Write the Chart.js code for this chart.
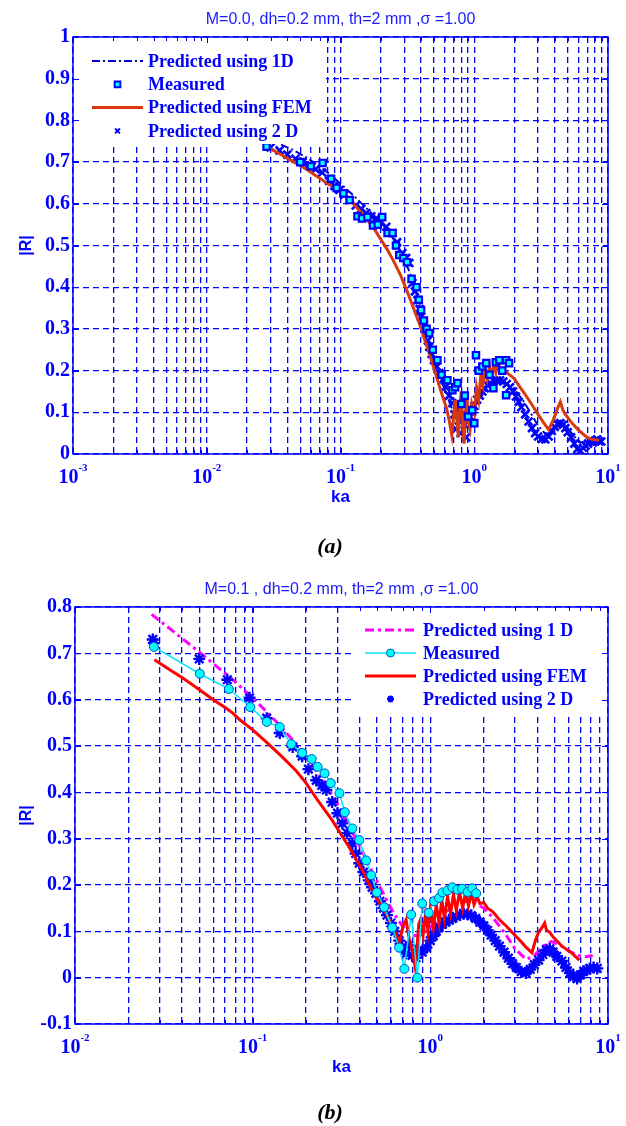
<!DOCTYPE html>
<html lang="en">
<head>
<meta charset="UTF-8">
<title>|R| versus ka</title>
<script src="https://cdn.jsdelivr.net/npm/chart.js"></script>
<style>
  body { margin: 0; background: #ffffff; }
  canvas { display: block; }
</style>
</head>
<body>
<canvas id="chartA" width="626" height="560"></canvas>
<canvas id="chartB" width="626" height="566"></canvas>

<script>
// ---------- panel (a): M = 0.0 ----------
const kaOneDA = [0.036,0.045,0.055,0.070,0.085,0.100,0.125,0.150,0.180,0.210,0.250,0.290,0.330,0.370,0.410,0.450,0.500,0.550,0.600,0.650,0.700,0.750,0.800,0.850,0.900,1.000,1.100,1.250,1.400,1.600,1.800,2.000,2.300,2.600,3.000,3.400,3.800,4.200,4.600,5.000,5.600,6.200,7.000,8.000,9.000];
const rOneDA  = [0.742,0.728,0.712,0.690,0.668,0.648,0.620,0.595,0.570,0.548,0.515,0.478,0.435,0.382,0.325,0.275,0.228,0.188,0.155,0.125,0.100,0.088,0.085,0.090,0.098,0.115,0.135,0.155,0.168,0.172,0.166,0.155,0.130,0.102,0.068,0.048,0.052,0.070,0.074,0.062,0.042,0.028,0.028,0.033,0.036];

const kaMeasA = [0.028,0.050,0.060,0.0735,0.085,0.0935,0.105,0.117,0.134,0.145,0.159,0.175,0.190,0.205,0.225,0.245,0.260,0.275,0.295,0.314,0.340,0.370,0.385,0.400,0.420,0.440,0.461,0.490,0.530,0.570,0.630,0.686,0.720,0.750,0.800,0.850,0.900,0.966,1.000,1.030,1.080,1.150,1.230,1.300,1.390,1.450,1.540,1.620,1.730,1.820,1.730];
const rMeasA  = [0.737,0.700,0.690,0.698,0.660,0.638,0.625,0.609,0.570,0.565,0.568,0.548,0.550,0.568,0.530,0.530,0.500,0.477,0.470,0.460,0.420,0.400,0.370,0.345,0.320,0.300,0.290,0.250,0.225,0.190,0.177,0.153,0.160,0.170,0.120,0.140,0.090,0.105,0.074,0.237,0.200,0.210,0.218,0.190,0.158,0.220,0.225,0.200,0.225,0.218,0.141];

const kaFemA = [0.028,0.032,0.036,0.040,0.045,0.050,0.056,0.063,0.071,0.080,0.090,0.100,0.112,0.125,0.140,0.160,0.180,0.200,0.225,0.250,0.280,0.310,0.340,0.370,0.400,0.430,0.460,0.500,0.540,0.580,0.620,0.650,0.680,0.700,0.720,0.740,0.760,0.780,0.800,0.820,0.840,0.860,0.880,0.900,0.930,0.960,1.000,1.040,1.080,1.120,1.160,1.200,1.250,1.300,1.350,1.400,1.450,1.500,1.600,1.700,1.800,1.900,2.000,2.200,2.400,2.700,3.000,3.300,3.600,3.900,4.200,4.400,4.600,4.800,5.200,5.600,6.000,6.500,7.000,7.500,8.000,8.600];
const rFemA  = [0.737,0.727,0.718,0.709,0.700,0.692,0.682,0.671,0.660,0.648,0.639,0.630,0.615,0.600,0.582,0.560,0.538,0.515,0.489,0.462,0.430,0.396,0.362,0.331,0.302,0.270,0.242,0.205,0.170,0.138,0.110,0.080,0.045,0.090,0.130,0.085,0.040,0.115,0.150,0.070,0.025,0.095,0.140,0.080,0.060,0.120,0.100,0.160,0.130,0.190,0.165,0.205,0.180,0.210,0.190,0.212,0.195,0.215,0.205,0.200,0.192,0.186,0.180,0.160,0.143,0.118,0.095,0.075,0.058,0.082,0.110,0.125,0.105,0.095,0.080,0.068,0.058,0.048,0.040,0.036,0.034,0.033];

const kaTwoDA = [0.030,0.035,0.040,0.046,0.052,0.058,0.065,0.073,0.082,0.090,0.098,0.107,0.117,0.130,0.143,0.156,0.170,0.185,0.200,0.220,0.245,0.265,0.290,0.310,0.327,0.345,0.360,0.376,0.390,0.400,0.420,0.437,0.450,0.461,0.480,0.500,0.525,0.550,0.580,0.610,0.650,0.686,0.710,0.730,0.750,0.770,0.790,0.810,0.830,0.850,0.870,0.890,0.910,0.930,0.960,1.000,1.050,1.100,1.150,1.200,1.260,1.320,1.400,1.480,1.560,1.650,1.750,1.850,1.950,2.050,2.150,2.250,2.400,2.550,2.700,2.850,3.000,3.200,3.400,3.600,3.800,4.000,4.200,4.400,4.600,4.800,5.000,5.300,5.600,5.900,6.200,6.500,6.800,7.100,7.400,7.700,8.000,8.300,8.600,8.900];
const rTwoDA  = [0.735,0.728,0.718,0.708,0.700,0.692,0.683,0.675,0.655,0.643,0.633,0.622,0.609,0.596,0.588,0.578,0.570,0.565,0.556,0.545,0.530,0.508,0.482,0.470,0.458,0.410,0.390,0.369,0.348,0.329,0.310,0.290,0.272,0.257,0.240,0.225,0.210,0.194,0.178,0.161,0.140,0.122,0.095,0.060,0.110,0.080,0.050,0.095,0.120,0.070,0.040,0.085,0.110,0.090,0.100,0.115,0.130,0.140,0.150,0.158,0.165,0.170,0.175,0.177,0.177,0.174,0.168,0.160,0.150,0.138,0.125,0.112,0.095,0.078,0.062,0.050,0.042,0.036,0.035,0.042,0.055,0.065,0.072,0.074,0.070,0.062,0.052,0.040,0.025,0.012,0.008,0.015,0.020,0.025,0.030,0.028,0.032,0.035,0.030,0.030];

// ---------- panel (b): M = 0.1 ----------
const kaOneDB = [0.027,0.035,0.050,0.0773,0.100,0.130,0.168,0.210,0.260,0.310,0.360,0.420,0.480,0.550,0.620,0.700,0.780,0.860,0.950,1.050,1.200,1.400,1.600,1.800,2.000,2.300,2.670,3.000,3.450,3.800,4.300,4.800,5.400,6.000,6.800,7.500,8.200];
const rOneDB  = [0.784,0.750,0.703,0.643,0.604,0.560,0.513,0.465,0.415,0.365,0.318,0.268,0.222,0.178,0.140,0.110,0.092,0.090,0.100,0.118,0.140,0.158,0.165,0.160,0.150,0.125,0.092,0.062,0.040,0.045,0.068,0.078,0.070,0.058,0.048,0.045,0.048];

const kaMeasB = [0.0278,0.0504,0.0735,0.097,0.120,0.142,0.165,0.190,0.215,0.232,0.254,0.275,0.308,0.330,0.364,0.398,0.435,0.465,0.500,0.550,0.610,0.667,0.714,0.780,0.845,0.900,0.980,1.050,1.120,1.170,1.250,1.330,1.420,1.510,1.620,1.720,1.810];
const rMeasB  = [0.714,0.656,0.623,0.584,0.552,0.541,0.504,0.485,0.472,0.455,0.441,0.420,0.398,0.357,0.322,0.297,0.253,0.221,0.184,0.152,0.108,0.065,0.019,0.136,0.000,0.160,0.140,0.165,0.172,0.184,0.188,0.195,0.190,0.192,0.185,0.193,0.182];

const kaFemB = [0.028,0.035,0.040,0.050,0.060,0.070,0.0773,0.085,0.100,0.120,0.147,0.175,0.200,0.232,0.280,0.350,0.415,0.470,0.565,0.640,0.670,0.700,0.730,0.760,0.790,0.820,0.840,0.860,0.880,0.910,0.940,0.970,1.000,1.040,1.080,1.120,1.160,1.200,1.250,1.300,1.350,1.400,1.460,1.520,1.580,1.640,1.700,1.760,1.830,1.900,2.000,2.100,2.250,2.450,2.700,2.900,3.150,3.450,3.730,3.900,4.070,4.250,4.400,4.500,4.700,4.900,5.200,5.500,5.900,6.300,6.900];
const rFemB  = [0.686,0.662,0.648,0.622,0.600,0.583,0.571,0.556,0.535,0.508,0.476,0.447,0.420,0.383,0.340,0.281,0.232,0.188,0.138,0.095,0.075,0.110,0.125,0.085,0.060,0.025,0.060,0.115,0.125,0.090,0.140,0.100,0.150,0.108,0.158,0.118,0.168,0.128,0.175,0.138,0.180,0.145,0.185,0.150,0.186,0.155,0.183,0.158,0.176,0.160,0.162,0.150,0.142,0.125,0.110,0.097,0.083,0.066,0.054,0.080,0.098,0.108,0.118,0.103,0.098,0.088,0.078,0.068,0.060,0.052,0.038];

const kaTwoDB = [0.0274,0.0278,0.050,0.072,0.096,0.120,0.142,0.168,0.190,0.206,0.228,0.245,0.260,0.280,0.300,0.320,0.340,0.364,0.380,0.398,0.420,0.450,0.470,0.494,0.520,0.545,0.570,0.600,0.630,0.667,0.690,0.730,0.760,0.790,0.830,0.860,0.900,0.950,1.000,1.040,1.080,1.120,1.170,1.220,1.280,1.330,1.400,1.470,1.540,1.620,1.700,1.800,1.900,2.000,2.100,2.200,2.320,2.450,2.600,2.750,2.900,3.050,3.250,3.450,3.650,3.850,4.070,4.300,4.500,4.700,4.900,5.150,5.500,5.800,6.100,6.400,6.700,7.000,7.300,7.600,7.900,8.300,8.700];
const rTwoDB  = [0.730,0.722,0.688,0.643,0.604,0.560,0.528,0.498,0.478,0.450,0.426,0.415,0.405,0.379,0.355,0.333,0.312,0.290,0.268,0.247,0.228,0.210,0.195,0.182,0.165,0.150,0.135,0.118,0.100,0.080,0.065,0.052,0.070,0.048,0.043,0.060,0.055,0.065,0.080,0.090,0.100,0.108,0.115,0.120,0.124,0.128,0.132,0.136,0.138,0.137,0.134,0.128,0.120,0.112,0.102,0.092,0.080,0.068,0.055,0.042,0.030,0.022,0.013,0.010,0.018,0.028,0.038,0.050,0.060,0.062,0.055,0.046,0.036,0.022,0.010,0.002,-0.002,0.006,0.014,0.016,0.020,0.022,0.020];

// ---------- axes ticks ----------
const yTicksA  = [0,0.1,0.2,0.3,0.4,0.5,0.6,0.7,0.8,0.9,1];
const yLabelsA = ['0','0.1','0.2','0.3','0.4','0.5','0.6','0.7','0.8','0.9','1'];
const yTicksB  = [-0.1,0,0.1,0.2,0.3,0.4,0.5,0.6,0.7,0.8];
const yLabelsB = ['-0.1','0','0.1','0.2','0.3','0.4','0.5','0.6','0.7','0.8'];
const decadesA = [0.001,0.01,0.1,1,10];
const expA     = ['-3','-2','-1','0','1'];
const decadesB = [0.01,0.1,1,10];
const expB     = ['-2','-1','0','1'];

const BLUE  = '#0000ff';
const SERIF = '"Liberation Serif", "Times New Roman", serif';
const SANS  = '"Liberation Sans", Arial, sans-serif';

// 1..9 × every decade, closed by the last decade value
function logGrid(decades) {
  const out = [];
  decades.slice(0, -1).forEach(d => {
    for (let m = 1; m <= 9; m++) out.push(+(m * d).toPrecision(3));
  });
  out.push(decades[decades.length - 1]);
  return out;
}

const pts = (xs, ys) => xs.map((x, i) => ({ x, y: ys[i] }));

function drawMarker(ctx, ds, x, y) {
  const r = ds.legendRadius || ds.pointRadius;
  ctx.save();
  ctx.fillStyle = ds.pointBackgroundColor;
  ctx.strokeStyle = ds.pointBorderColor;
  ctx.lineWidth = ds.legendBorder || ds.pointBorderWidth;
  ctx.setLineDash([]);
  ctx.beginPath();
  const s = r * Math.SQRT1_2;
  if (ds.pointStyle === 'rect') {
    ctx.rect(x - s, y - s, 2 * s, 2 * s);
    ctx.fill();
  } else if (ds.pointStyle === 'circle') {
    ctx.arc(x, y, r, 0, Math.PI * 2);
    ctx.fill();
  } else {
    ctx.moveTo(x - s, y - s); ctx.lineTo(x + s, y + s);
    ctx.moveTo(x - s, y + s); ctx.lineTo(x + s, y - s);
    if (ds.pointStyle === 'star') {
      ctx.moveTo(x - r, y); ctx.lineTo(x + r, y);
      ctx.moveTo(x, y - r); ctx.lineTo(x, y + r);
    }
  }
  ctx.stroke();
  ctx.restore();
}

// MATLAB-like frame: legend panel, box, inner ticks and all text
const matlabFrame = {
  id: 'matlabFrame',
  afterDatasetsDraw(chart, args, o) {
    const ctx = chart.ctx, a = chart.chartArea;
    const xs = chart.scales.x, ys = chart.scales.y;
    ctx.save();
    ctx.fillStyle = '#ffffff';
    ctx.fillRect(o.legendBox[0], o.legendBox[1], o.legendBox[2], o.legendBox[3]);

    ctx.strokeStyle = BLUE;
    ctx.setLineDash([]);
    ctx.lineWidth = 1.5;
    ctx.strokeRect(a.left, a.top, a.right - a.left, a.bottom - a.top);

    ctx.lineWidth = 1;
    ctx.beginPath();
    xs.ticks.forEach(t => {
      const px = Math.round(xs.getPixelForValue(t.value)) + 0.5;
      const len = t.major ? 6 : 4;
      ctx.moveTo(px, a.bottom); ctx.lineTo(px, a.bottom - len);
      ctx.moveTo(px, a.top); ctx.lineTo(px, a.top + len);
    });
    ys.ticks.forEach(t => {
      const py = Math.round(ys.getPixelForValue(t.value)) + 0.5;
      ctx.moveTo(a.left, py); ctx.lineTo(a.left + 6, py);
      ctx.moveTo(a.right, py); ctx.lineTo(a.right - 6, py);
    });
    ctx.stroke();

    // legend rows, in dataset order
    const [x0, x1] = o.legendLine;
    chart.data.datasets.forEach((ds, i) => {
      const yRow = o.legendRow0 + i * o.legendStep;
      if (ds.showLine) {
        ctx.strokeStyle = ds.borderColor;
        ctx.lineWidth = ds.borderWidth;
        ctx.setLineDash(ds.borderDash || []);
        ctx.beginPath();
        ctx.moveTo(x0, yRow); ctx.lineTo(x1, yRow);
        ctx.stroke();
        ctx.setLineDash([]);
      }
      if (ds.pointRadius > 0) drawMarker(ctx, ds, (x0 + x1) / 2, yRow);
      ctx.fillStyle = BLUE;
      ctx.font = 'bold 18px ' + SERIF;
      ctx.textAlign = 'left';
      ctx.textBaseline = 'middle';
      ctx.fillText(ds.label, o.legendText, yRow + 1);
    });
    ctx.restore();
  },
  afterDraw(chart, args, o) {
    const ctx = chart.ctx, a = chart.chartArea, xs = chart.scales.x;
    const cx = (a.left + a.right) / 2;
    ctx.save();
    ctx.textBaseline = 'alphabetic';
    ctx.textAlign = 'center';
    ctx.fillStyle = '#1a1aff';
    ctx.font = '16px ' + SANS;
    ctx.fillText(o.title, cx, a.top - 13);

    // decade labels 10^n
    ctx.fillStyle = BLUE;
    ctx.textAlign = 'left';
    o.decades.forEach((v, i) => {
      const px = xs.getPixelForValue(v);
      ctx.font = 'bold 20px ' + SERIF;
      const wb = ctx.measureText('10').width;
      ctx.font = 'bold 11px ' + SERIF;
      const we = ctx.measureText(o.exps[i]).width;
      const left = px - (wb + we) / 2;
      ctx.font = 'bold 20px ' + SERIF;
      ctx.fillText('10', left, a.bottom + 29);
      ctx.font = 'bold 11px ' + SERIF;
      ctx.fillText(o.exps[i], left + wb, a.bottom + 17);
    });

    ctx.textAlign = 'center';
    ctx.textBaseline = 'middle';
    ctx.font = 'bold 17px ' + SANS;
    ctx.fillText('ka', cx, a.bottom + 43);

    ctx.save();
    ctx.translate(27, (a.top + a.bottom) / 2);
    ctx.rotate(-Math.PI / 2);
    ctx.font = 'bold 16px ' + SANS;
    ctx.fillText('|R|', 0, 0);
    ctx.restore();

    ctx.fillStyle = '#000000';
    ctx.font = 'bold italic 22px ' + SERIF;
    ctx.fillText(o.caption, 330, a.bottom + o.captionGap);
    ctx.restore();
  }
};

function panelOptions(p) {
  const gridLine = { color: BLUE, lineWidth: 1.3, drawTicks: false };
  return {
    responsive: false,
    animation: false,
    devicePixelRatio: 1,
    layout: { padding: { left: 0, top: p.top, right: 18, bottom: p.bottom } },
    scales: {
      x: {
        type: 'logarithmic',
        min: p.decades[0],
        max: p.decades[p.decades.length - 1],
        afterBuildTicks: s => {
          s.ticks = logGrid(p.decades).map(v => ({ value: v, major: p.decades.includes(v) }));
        },
        afterFit: s => { s.height = 0; },
        ticks: { display: false },
        grid: gridLine,
        border: { display: false, dash: [6, 4] }
      },
      y: {
        type: 'linear',
        min: p.yTicks[0],
        max: p.yTicks[p.yTicks.length - 1],
        afterBuildTicks: s => { s.ticks = p.yTicks.map(v => ({ value: v })); },
        afterFit: s => { s.width = p.left; },
        ticks: {
          color: BLUE,
          padding: 3,
          font: { family: 'Liberation Serif', size: 20, weight: 'bold' },
          callback: (v, i) => p.yLabels[i]
        },
        grid: gridLine,
        border: { display: false, dash: [6, 4] }
      }
    },
    plugins: {
      legend: { display: false },
      tooltip: { enabled: false },
      matlabFrame: p.frame
    }
  };
}

// panel (a)
new Chart(document.getElementById('chartA'), {
  type: 'scatter',
  data: {
    datasets: [
      { label: 'Predicted using 1D', data: pts(kaOneDA, rOneDA), showLine: true,
        borderColor: '#0000c8', borderWidth: 2, borderDash: [8, 3, 2, 3], pointRadius: 0, order: 3 },
      { label: 'Measured', data: pts(kaMeasA, rMeasA), showLine: false,
        pointStyle: 'rect', pointRadius: 4.5, legendRadius: 4, pointBorderWidth: 2.2, legendBorder: 2,
        pointBackgroundColor: '#00ffff', pointBorderColor: '#0000ff', order: 0 },
      { label: 'Predicted using FEM', data: pts(kaFemA, rFemA), showLine: true,
        borderColor: '#d83a10', borderWidth: 3, pointRadius: 0, order: 1 },
      { label: 'Predicted using 2 D', data: pts(kaTwoDA, rTwoDA), showLine: false,
        pointStyle: 'crossRot', pointRadius: 5.5, legendRadius: 3.5, pointBorderWidth: 2.6, legendBorder: 2,
        pointBackgroundColor: '#0000ff', pointBorderColor: '#0000ff', order: 2 }
    ]
  },
  options: panelOptions({
    top: 37, bottom: 106, left: 73,
    decades: decadesA, yTicks: yTicksA, yLabels: yLabelsA,
    frame: {
      title: 'M=0.0, dh=0.2 mm, th=2 mm ,\u03c3 =1.00',
      decades: decadesA, exps: expA, caption: '(a)', captionGap: 93,
      legendBox: [74, 38, 252, 106], legendLine: [92, 143], legendText: 148,
      legendRow0: 61, legendStep: 23.3
    }
  }),
  plugins: [matlabFrame]
});

// panel (b)
new Chart(document.getElementById('chartB'), {
  type: 'scatter',
  data: {
    datasets: [
      { label: 'Predicted using 1 D', data: pts(kaOneDB, rOneDB), showLine: true,
        borderColor: '#ff00ff', borderWidth: 3, borderDash: [9, 4, 3, 4], pointRadius: 0, order: 3 },
      { label: 'Measured', data: pts(kaMeasB, rMeasB), showLine: true,
        borderColor: '#00e8ff', borderWidth: 1.5,
        pointStyle: 'circle', pointRadius: 4.5, legendRadius: 4, pointBorderWidth: 1,
        pointBackgroundColor: '#00ffff', pointBorderColor: '#0050c8', order: 0 },
      { label: 'Predicted using FEM', data: pts(kaFemB, rFemB), showLine: true,
        borderColor: '#ff0000', borderWidth: 3, pointRadius: 0, order: 1 },
      { label: 'Predicted using 2 D', data: pts(kaTwoDB, rTwoDB), showLine: false,
        pointStyle: 'star', pointRadius: 6, legendRadius: 3.5, pointBorderWidth: 2.4, legendBorder: 2,
        pointBackgroundColor: '#0000ff', pointBorderColor: '#0000ff', order: 2 }
    ]
  },
  options: panelOptions({
    top: 47, bottom: 102, left: 75,
    decades: decadesB, yTicks: yTicksB, yLabels: yLabelsB,
    frame: {
      title: 'M=0.1 , dh=0.2 mm, th=2 mm ,\u03c3 =1.00',
      decades: decadesB, exps: expB, caption: '(b)', captionGap: 89,
      legendBox: [355, 48, 252, 109], legendLine: [365, 416], legendText: 423,
      legendRow0: 70, legendStep: 23
    }
  }),
  plugins: [matlabFrame]
});
</script>
</body>
</html>
